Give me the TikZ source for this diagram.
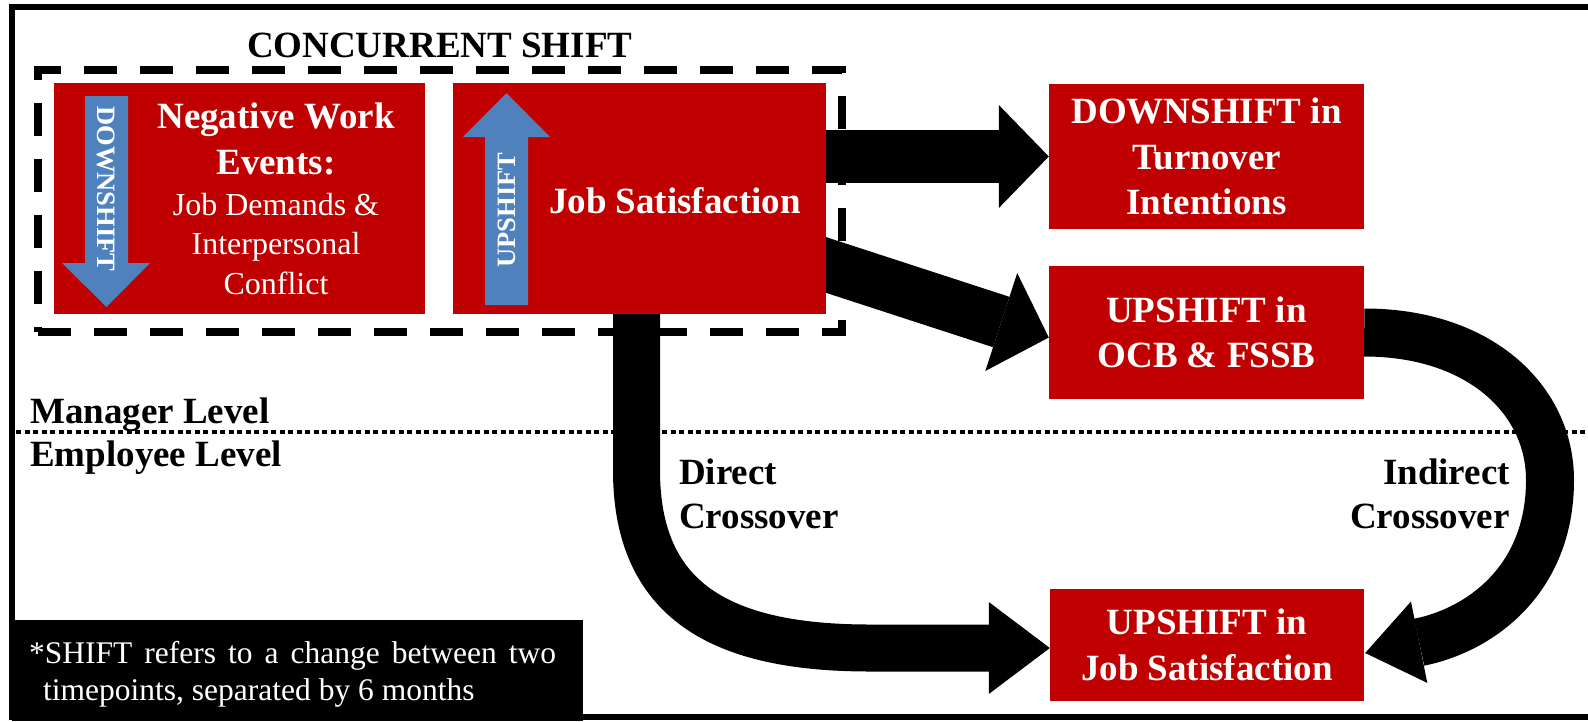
\documentclass[tikz,border=0pt]{standalone}
\usepackage{fontspec}
\setmainfont{Liberation Serif}
\usepackage{tikz}
\usetikzlibrary{positioning}
\usetikzlibrary{arrows.meta}
\usetikzlibrary{calc}
\usetikzlibrary{backgrounds}
\usepackage{xcolor}
\definecolor{boxred}{HTML}{C00000}
\definecolor{shiftblue}{HTML}{4F81BD}

\begin{document}
\begin{tikzpicture}[x=1pt, y=-1pt,
  box/.style={fill=boxred, text=white, inner sep=0pt, align=center,
    font=\fontsize{37}{45.5}\selectfont\bfseries},
  boxtext/.style={text=white, inner sep=0pt, align=center},
  levellabel/.style={inner sep=0pt, font=\fontsize{37}{44}\selectfont\bfseries},
  fat/.style n args={3}{line width=#1,
    -{Triangle[length=#2, width=#3, line width=0pt]}},
  shifttext/.style={text=white, inner sep=0pt,
    font=\fontsize{26.5}{26.5}\selectfont\bfseries}]
  \useasboundingbox (0,0) rectangle (1588,721);
  \draw[line width=6pt] (1588,6.5) -- (12,6.5) -- (12,717) -- (1588,717);

  % manager level boxes
  \node[box, minimum width=371pt, minimum height=231pt] (neg) at (239.5,198.5) {};
  \node[box, minimum width=373pt, minimum height=231pt] (js) at (639.5,198.5) {};
  \node[boxtext, font=\fontsize{32}{40}\selectfont] (negtext) at (276,199)
    {{\fontsize{37}{40}\selectfont\bfseries Negative Work}\\[6pt]
     {\fontsize{37}{40}\selectfont\bfseries Events:}\\[1pt]
     Job Demands \&\\[-1pt]
     Interpersonal\\
     Conflict};
  \node[boxtext, font=\fontsize{37}{45}\selectfont\bfseries] (jstext) at (675,200.5) {Job Satisfaction};
  \node[box, minimum width=315pt, minimum height=145pt] (turn) at (1206.5,156.5) {DOWNSHIFT in\\Turnover\\Intentions};
  \node[box, minimum width=315pt, minimum height=133pt] (ocb) at (1206.5,332.5) {UPSHIFT in\\OCB \& FSSB};
  % employee level box
  \node[box, minimum width=314pt, minimum height=112pt] (ujs) at (1207,645) {UPSHIFT in\\Job Satisfaction};

  % concurrent shift frame
  \node[draw, line width=8pt, dash pattern=on 33pt off 23pt, inner sep=0pt,
    minimum width=804.5pt, minimum height=262pt] (conc) at (439.75,201) {};
  \node[levellabel, above=8pt of conc] (conctitle) {CONCURRENT SHIFT};

  % shift arrows
  \fill[shiftblue] (85,96) -- (128,96) -- (128,263) -- (150,263) -- (106.5,307) -- (62,263) -- (85,263) -- cycle;
  \node[shifttext, rotate=-90] (down) at (106.5,189) {DOWNSHIFT};
  \fill[shiftblue] (485,305) -- (528,305) -- (528,137) -- (550,137) -- (506.5,93) -- (463,137) -- (485,137) -- cycle;
  \node[shifttext, rotate=90] (up) at (506.5,210) {UPSHIFT};

  \begin{scope}[on background layer]
    \draw[line width=4pt, dash pattern=on 5pt off 3.5pt] (16,432) -- (1588,432);
    \draw[fat={53pt}{50pt}{103pt}] (js.east |- turn.west) -- (turn.west);
    \draw[fat={53pt}{50pt}{103pt}] ($(js.east)+(-20,60)$) -- ($(ocb.west)+(0,5)$);
    \draw[fat={47pt}{61pt}{92pt}] ($(js.south)+(-3,-20)$) -- ++(0,176)
      .. controls +(0,130) and ($(ujs.west)+(-330,3)$) .. ($(ujs.west)+(-180,3)$)
      -- ($(ujs.west)+(0,3)$);
    \draw[fat={48pt}{55pt}{83pt}] (ocb.east) .. controls +(116,0) and (1550,400) .. (1550,480)
      .. controls (1550,580) and (1480,630) .. ($(ujs.east)+(1,8)$);
  \end{scope}

  % levels and crossover labels
  \node[levellabel, anchor=base west] (mgr) at (30,423) {Manager Level};
  \node[levellabel, anchor=base west] (emp) at (30,466) {Employee Level};
  \node[levellabel, align=left, anchor=west] (direct) at (679,494) {Direct\\Crossover};
  \node[levellabel, align=right, anchor=east] (indirect) at (1510,494) {Indirect\\Crossover};

  % note
  \node[fill=black, inner sep=0pt, minimum width=571pt, minimum height=101pt] (note) at (297.5,670.5) {};
  \node[inner sep=0pt, text=white, align=left, anchor=west, font=\fontsize{31.5}{37}\selectfont] (notetext) at (29,674)
    {\makebox[527pt][s]{*SHIFT refers to a change between two}\\\hspace*{14pt}timepoints, separated by 6 months};
\end{tikzpicture}
\end{document}
